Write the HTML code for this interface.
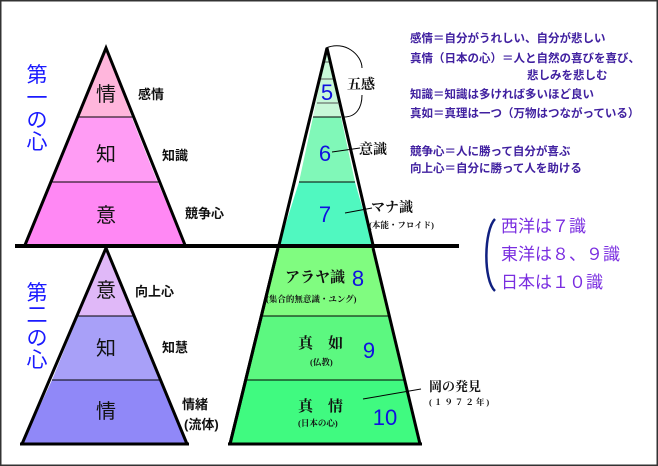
<!DOCTYPE html>
<html><head><meta charset="utf-8"><style>
html,body{margin:0;padding:0;background:#fff}
svg{display:block}
text{font-family:"Liberation Sans","Noto Sans CJK JP",sans-serif}
.s{font-family:"Liberation Serif","Noto Serif CJK SC",serif;font-weight:bold;fill:#111}
.n{fill:#1010e0;font-size:22px}
.p{fill:#4020a0;font-size:11.5px;font-weight:bold}
.q{fill:#7a2ee0;font-size:17px}
</style></head><body>
<svg width="658" height="466" viewBox="0 0 658 466" xmlns="http://www.w3.org/2000/svg">
<rect x="0.5" y="0.5" width="657" height="465" fill="#fff" stroke="#333" stroke-width="2"/>
<!-- left top pyramid -->
<polygon points="106,48 78.5,117 131.5,117" fill="#ffb6dc"/>
<polygon points="78.5,117 52.5,182 157.5,182" fill="#ff9cf4"/>
<polygon points="78.5,117 131.5,117 157.5,182 52.5,182" fill="#ff9cf4"/>
<polygon points="52.5,182 157.5,182 185,245 25,245" fill="#ff88f4"/>
<line x1="78.5" y1="117" x2="133.5" y2="117" stroke="#000"/>
<line x1="52.5" y1="182" x2="159.5" y2="182" stroke="#000"/>
<polyline points="25,245 106,48 185,245" fill="none" stroke="#000" stroke-width="3"/>
<!-- right top pyramid -->
<polygon points="327,48 341,117 313,117" fill="#c8f8d8"/>
<polygon points="313,117 341,117 355,182 299,182" fill="#80f8b8"/>
<polygon points="299,182 355,182 373,245 279,245" fill="#50f8c0"/>
<g stroke="#555" stroke-width="1"><line x1="323" y1="62" x2="331" y2="62"/><line x1="320" y1="79" x2="335" y2="79"/><line x1="317" y1="103" x2="338" y2="103"/></g>
<line x1="313" y1="117" x2="341" y2="117" stroke="#000"/>
<line x1="299" y1="182" x2="355" y2="182" stroke="#000"/>
<polyline points="279,245 327,48 373,245" fill="none" stroke="#000" stroke-width="3"/>
<!-- divider -->
<line x1="15" y1="246" x2="459" y2="246" stroke="#000" stroke-width="4"/>
<!-- left bottom pyramid -->
<polygon points="106,248 134,316 78,316" fill="#e0b8f8"/>
<polygon points="78,316 134,316 160,380 52,380" fill="#a8a0f8"/>
<polygon points="52,380 160,380 187,444 22,444" fill="#9088f8"/>
<line x1="78" y1="316" x2="134" y2="316" stroke="#000"/>
<line x1="52" y1="380" x2="160" y2="380" stroke="#000"/>
<polyline points="22,444 106,248 187,444" fill="none" stroke="#000" stroke-width="3"/>
<!-- right bottom trapezoid -->
<polygon points="278,248 373,248 389,316 262,316" fill="#80fc80"/>
<polygon points="262,316 389,316 405,380 246,380" fill="#5cf880"/>
<polygon points="246,380 405,380 420,444 230,444" fill="#40fa80"/>
<line x1="262" y1="316" x2="389" y2="316" stroke="#000"/>
<line x1="246" y1="380" x2="405" y2="380" stroke="#000"/>
<polyline points="230,444 278,248 M373,248 420,444" fill="none" stroke="#000" stroke-width="3"/>
<line x1="278" y1="248" x2="230" y2="444" stroke="#000" stroke-width="3"/>
<line x1="373" y1="248" x2="420" y2="444" stroke="#000" stroke-width="3"/>
<line x1="228" y1="444" x2="422" y2="444" stroke="#000" stroke-width="3"/>
<line x1="20" y1="444" x2="189" y2="444" stroke="#000" stroke-width="3"/>
<!-- left vertical labels -->
<g fill="#1a1aff" font-size="21" text-anchor="middle">
<text x="37" y="82">第</text><text x="37" y="105">一</text><text x="37" y="127">の</text><text x="37" y="149">心</text>
<text x="37" y="300">第</text><text x="37" y="322">二</text><text x="37" y="345">の</text><text x="37" y="367">心</text>
</g>
<g font-size="20" fill="#111" text-anchor="middle">
<text x="106" y="101">情</text><text x="106" y="161">知</text><text x="106" y="222">意</text>
<text x="106" y="297">意</text><text x="106" y="355">知</text><text x="106" y="418">情</text>
</g>
<g class="s" font-size="13">
<text x="138" y="99">感情</text><text x="162" y="160">知識</text><text x="185" y="218">競争心</text>
<text x="135" y="296">向上心</text><text x="162" y="352">知慧</text>
<text x="182" y="409">情緒</text><text x="184" y="429">(流体)</text>
</g>
<!-- numbers -->
<text class="n" x="327" y="100" text-anchor="middle">5</text>
<text class="n" x="325" y="161" text-anchor="middle">6</text>
<text class="n" x="325" y="222" text-anchor="middle">7</text>
<text class="n" x="358" y="286" text-anchor="middle">8</text>
<text class="n" x="369" y="358" text-anchor="middle">9</text>
<text class="n" x="385" y="425" text-anchor="middle">10</text>
<!-- top right annotations -->
<path d="M326,48 C345,40 362,55 362,68 M362,95 C362,108 356,117 344,117" fill="none" stroke="#000"/>
<text class="s" x="347" y="89" font-size="14" font-weight="normal">五感</text>
<line x1="332" y1="152" x2="360" y2="148" stroke="#000"/>
<text class="s" x="359" y="154" font-size="14">意識</text>
<line x1="345" y1="213" x2="372" y2="208" stroke="#000"/>
<text class="s" x="371" y="212" font-size="14">マナ識</text>
<text class="s" x="369" y="228" font-size="8.5">(本能・フロイド)</text>
<!-- bottom right labels -->
<text class="s" x="285" y="282" font-size="15">アラヤ識</text>
<text class="s" x="266" y="302" font-size="8.5">(集合的無意識・ユング)</text>
<text class="s" x="298" y="348" font-size="15">真　如</text>
<text class="s" x="310" y="365" font-size="8.5">(仏教)</text>
<text class="s" x="298" y="411" font-size="15">真　情</text>
<text class="s" x="298" y="426" font-size="8.5">(日本の心)</text>
<line x1="363" y1="399" x2="421" y2="389" stroke="#000"/>
<text class="s" x="429" y="391" font-size="13">岡の発見</text>
<text class="s" x="429" y="405" font-size="8.5" letter-spacing="2">(１９７２年)</text>
<!-- purple notes -->
<g class="p">
<text x="410" y="42">感情＝自分がうれしい、自分が悲しい</text>
<text x="410" y="62">真情（日本の心）＝人と自然の喜びを喜び、</text>
<text x="527" y="79">悲しみを悲しむ</text>
<text x="410" y="98">知識＝知識は多ければ多いほど良い</text>
<text x="410" y="117">真如＝真理は一つ（万物はつながっている）</text>
<text x="410" y="155">競争心＝人に勝って自分が喜ぶ</text>
<text x="410" y="172">向上心＝自分に勝って人を助ける</text>
</g>
<path d="M495,219 C484,230 483,280 495,291" fill="none" stroke="#102080" stroke-width="2.5"/>
<g class="q">
<text x="501" y="232">西洋は７識</text>
<text x="501" y="260">東洋は８、９識</text>
<text x="501" y="288">日本は１０識</text>
</g>
</svg>
</body></html>
